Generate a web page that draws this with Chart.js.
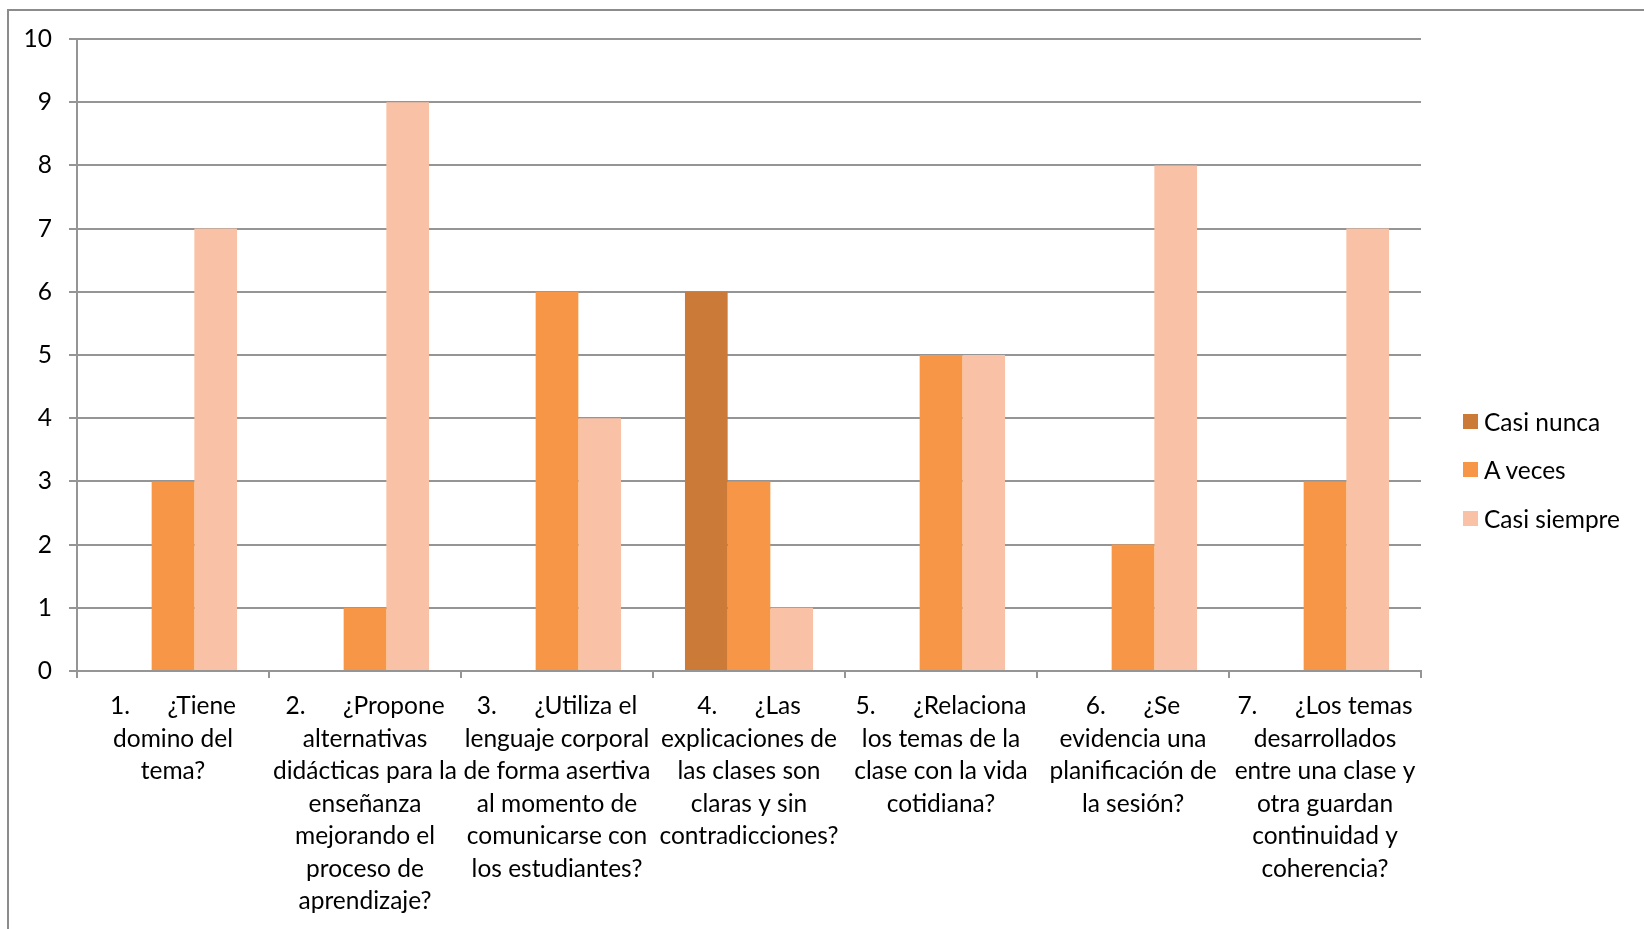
<!DOCTYPE html>
<html>
<head>
<meta charset="utf-8">
<script src="https://cdn.jsdelivr.net/npm/chart.js@4.4.0/dist/chart.umd.min.js"></script>
<style>
  html, body { margin: 0; padding: 0; background: #fff; }
  body { width: 1644px; height: 929px; position: relative; overflow: hidden; font-family: Lato, "Liberation Sans", sans-serif; }
  #frame { position: absolute; left: 7px; top: 9px; width: 1700px; height: 1000px; border-left: 2px solid #8c8c8c; border-top: 2px solid #8c8c8c; }
  #chart { position: absolute; left: 0; top: 0; }
  #legend { position: absolute; left: 1463px; top: 410px; }
  .item { display: flex; align-items: center; height: 22px; margin-bottom: 26.5px; font-size: 24.5px; color: #000; }
  .swatch { width: 15px; height: 15px; margin-right: 6px; }
</style>
</head>
<body>
<div id="frame"></div>
<canvas id="chart" width="1644" height="929"></canvas>
<div id="legend"></div>
<script>
const categories = [
  ["1.      ¿Tiene", "domino del", "tema?"],
  ["2.      ¿Propone", "alternativas", "didácticas para la", "enseñanza", "mejorando el", "proceso de", "aprendizaje?"],
  ["3.      ¿Utiliza el", "lenguaje corporal", "de forma asertiva", "al momento de", "comunicarse con", "los estudiantes?"],
  ["4.      ¿Las", "explicaciones de", "las clases son", "claras y sin", "contradicciones?"],
  ["5.      ¿Relaciona", "los temas de la", "clase con la vida", "cotidiana?"],
  ["6.      ¿Se", "evidencia una", "planificación de", "la sesión?"],
  ["7.      ¿Los temas", "desarrollados", "entre una clase y", "otra guardan", "continuidad y", "coherencia?"]
];
const seriesNames = ["Casi nunca", "A veces", "Casi siempre"];
const casiNunca = [0, 0, 0, 6, 0, 0, 0];
const aVeces = [3, 1, 6, 3, 5, 2, 3];
const casiSiempre = [7, 9, 4, 1, 5, 8, 7];
const colors = ["#cb7a38", "#f79646", "#f9c2a6"];

const gridColor = "#959595";
const font = { family: "Lato", size: 24.5 };

const chart = new Chart(document.getElementById("chart"), {
  type: "bar",
  data: {
    labels: categories,
    datasets: [casiNunca, aVeces, casiSiempre].map((values, i) => ({
      label: seriesNames[i],
      data: values,
      backgroundColor: colors[i],
      borderWidth: 0,
      categoryPercentage: 0.667,
      barPercentage: 1.0,
    })),
  },
  options: {
    responsive: false,
    animation: false,
    layout: { padding: { top: 39, right: 223, left: 0, bottom: 0 } },
    plugins: {
      legend: { display: false },
      tooltip: { enabled: false },
    },
    scales: {
      x: {
        afterFit: (scale) => { scale.height = 258; },
        grid: { drawOnChartArea: false, drawTicks: true, tickLength: 7, color: gridColor, lineWidth: 2 },
        border: { display: true, color: gridColor, width: 2 },
        ticks: {
          autoSkip: false,
          maxRotation: 0,
          minRotation: 0,
          padding: 12,
          color: "#000",
          font: { ...font, lineHeight: 32.5 / 24.5 },
        },
      },
      y: {
        min: 0,
        max: 10,
        afterFit: (scale) => { scale.width = 77; },
        grid: { color: gridColor, lineWidth: 2, drawTicks: true, tickLength: 8 },
        border: { display: true, color: gridColor, width: 2 },
        ticks: { stepSize: 1, padding: 17, color: "#000", font: font },
      },
    },
  },
});

const legend = document.getElementById("legend");
seriesNames.forEach((name, i) => {
  const row = document.createElement("div");
  row.className = "item";
  row.innerHTML = '<span class="swatch" style="background:' + colors[i] + '"></span>' + name;
  legend.appendChild(row);
});
</script>
</body>
</html>
